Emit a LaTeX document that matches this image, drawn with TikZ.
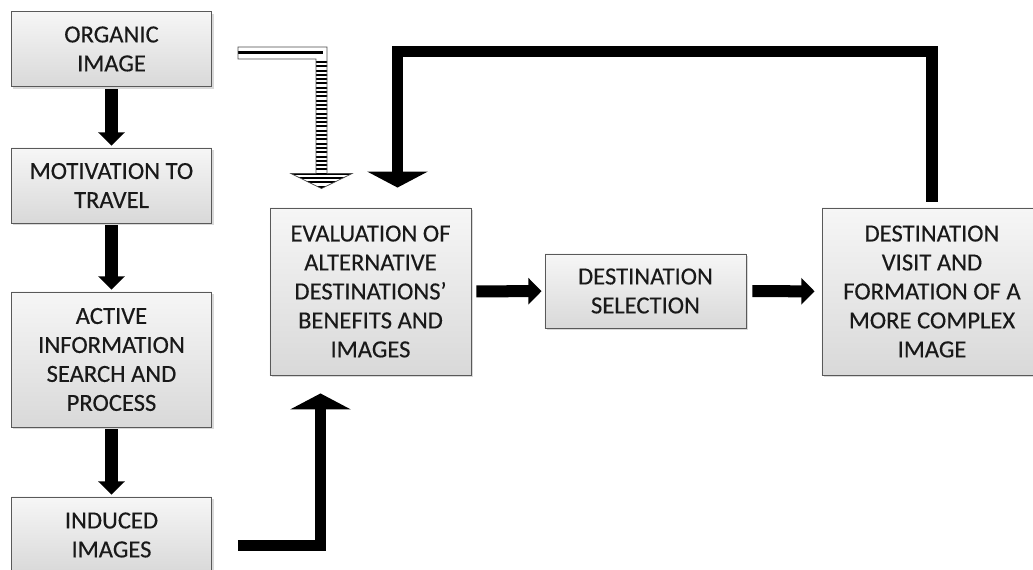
\documentclass[tikz,border=0pt]{standalone}
\usepackage{fontspec}
\setmainfont{Carlito}
\usetikzlibrary{arrows.meta,shadows,calc}

\begin{document}
\begin{tikzpicture}[x=0.025cm,y=-0.025cm,
    stage/.style={draw=black!65, line width=0.6pt, top color=gray!7, bottom color=gray!30,
      text=black!90, align=center, inner sep=2pt, minimum width=5cm,
      font=\fontsize{17.5}{20.6}\selectfont\addfontfeature{FakeBold=0.3},
      drop shadow={shadow xshift=0.05cm, shadow yshift=-0.06cm, opacity=0.3}},
    flow/.style={line width=0.3cm, -{Triangle[length=0.33cm,width=0.65cm]},
      shorten <=0.05cm, shorten >=0.05cm},
    bigflow/.style={line width=0.29cm, -{Triangle[length=0.4cm,width=1.5cm]}}]
    \useasboundingbox (0,0) rectangle (1033,570);

    % left column
    \node[stage, minimum height=1.875cm] (org) at (111.5,49) {ORGANIC\\IMAGE};
    \node[stage, minimum height=1.875cm] (mot) at (111.5,185.5) {MOTIVATION TO\\TRAVEL};
    \node[stage, minimum height=3.375cm] (act) at (111.5,359.5) {ACTIVE\\INFORMATION\\SEARCH AND\\PROCESS};
    \node[stage, minimum height=1.9cm] (ind) at (111.5,535) {INDUCED\\IMAGES};

    % main row
    \node[stage, minimum width=5.025cm, minimum height=4.175cm] (eval) at (370.5,291.5)
      {EVALUATION OF\\ALTERNATIVE\\DESTINATIONS’\\BENEFITS AND\\IMAGES};
    \node[stage, minimum width=5.025cm, minimum height=1.85cm] (sel) at (645.5,291)
      {DESTINATION\\SELECTION};
    \node[stage, minimum width=5.5cm, minimum height=4.175cm] (visit) at (932,291.5)
      {DESTINATION\\VISIT AND\\FORMATION OF A\\MORE COMPLEX\\IMAGE};

    \draw[flow] (org) -- (mot);
    \draw[flow] (mot) -- (act);
    \draw[flow] (act) -- (ind);

    \draw[flow, shorten <=0.125cm, shorten >=0.075cm] (eval) -- (sel);
    \draw[flow, shorten <=0.15cm, shorten >=0.175cm] (sel) -- (visit);

    \draw[bigflow] (ind.east) ++(26,10.5) -| ([xshift=-1.25cm,yshift=-0.45cm]eval.south);
    \draw[bigflow] ([yshift=0.15cm]visit.north) -- ++(0,-150)
      -| ([xshift=0.675cm,yshift=0.5cm]eval.north);

    % striped hollow arrow
    \path (org.east) ++(26,4) coordinate (stail);
    \path (eval.north) ++(-49,-19) coordinate (stip);
    \coordinate (sa) at ($(stail)+(0,-6)$);
    \coordinate (si) at ($(stail)+(0,6)$);
    \coordinate (sb) at ($(stip)+(5.5,-15)$);
    \coordinate (sd) at ($(stip)+(30.5,-15)$);
    \coordinate (sf) at ($(stip)+(-30.5,-15)$);
    \coordinate (sg) at ($(stip)+(-5.5,-15)$);
    \def\hollow{(sa) -- (sb |- sa) -- (sb) -- (sd) -- (stip) -- (sf) -- (sg) -- (sg |- si) -- (si) -- cycle}
    \fill[white] \hollow;
    \begin{scope}
      \clip \hollow;
      \draw[line width=0.075cm] (stail) -- ++(85,0);
      \foreach \k in {0,...,29}
        \draw[line width=0.05cm] ($(si)+(50,3+4.3*\k)$) -- ++(72,0);
    \end{scope}
    \draw[black!70, line width=0.5pt] \hollow;

\end{tikzpicture}
\end{document}
